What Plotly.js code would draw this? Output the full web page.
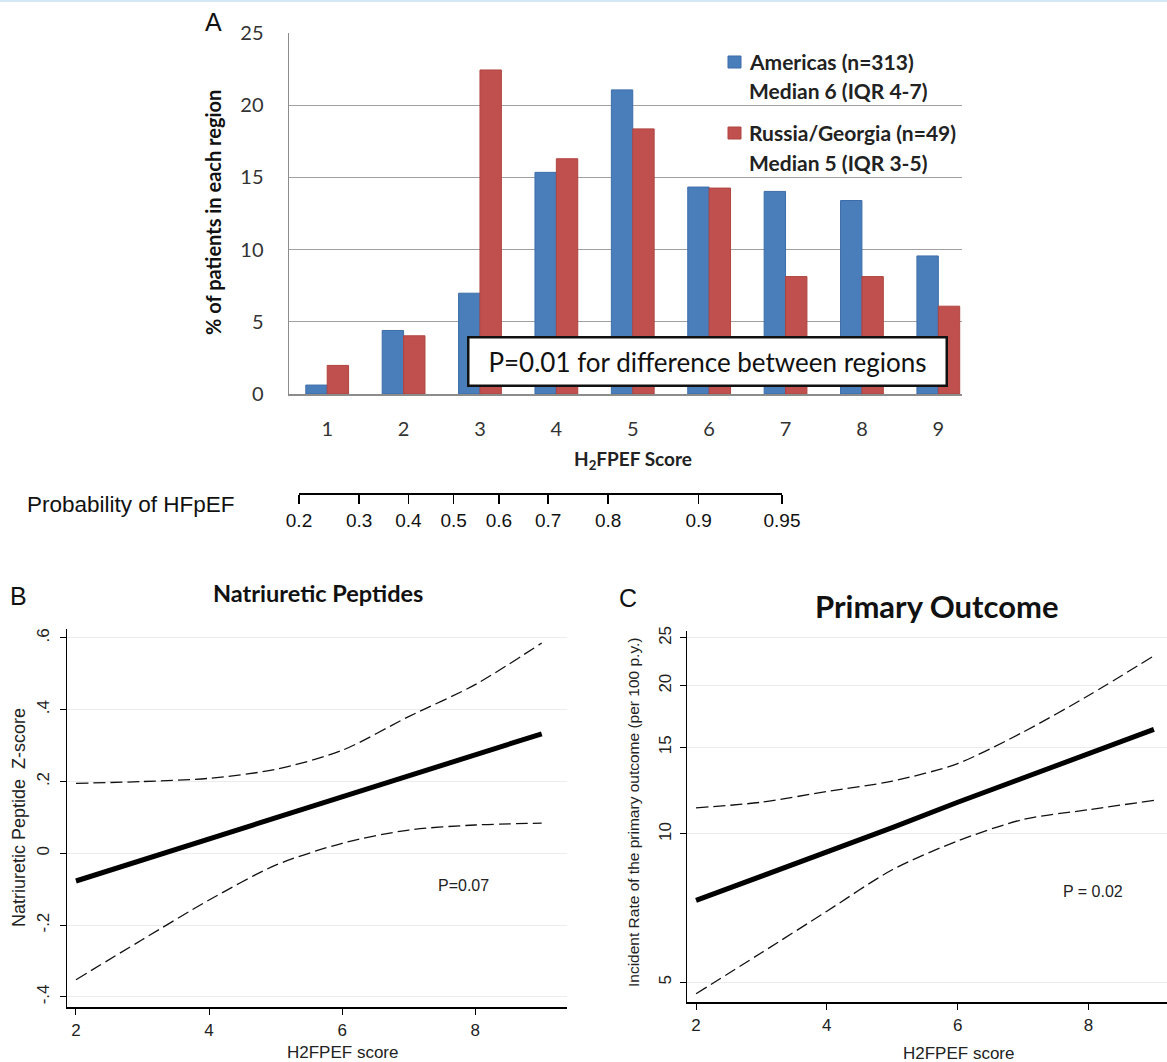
<!DOCTYPE html>
<html><head><meta charset="utf-8">
<script src="https://cdn.plot.ly/plotly-3.0.1.min.js"></script>
<style>html,body{margin:0;padding:0;background:#fff}#chart{width:1167px;height:1062px}</style>
</head><body><div id="chart"></div>
<script>
// ---------- data ----------
const scores = [1, 2, 3, 4, 5, 6, 7, 8, 9];
const americasPct = [0.62, 4.4, 6.98, 15.35, 21.06, 14.33, 14.03, 13.4, 9.56];
const russiaPct = [1.98, 4.03, 22.44, 16.29, 18.36, 14.26, 8.13, 8.13, 6.08];
const americasLabel = ['Americas (n=313)', 'Median 6 (IQR 4-7)'];
const russiaLabel = ['Russia/Georgia (n=49)', 'Median 5 (IQR 3-5)'];

const probTicks = [0.2, 0.3, 0.4, 0.5, 0.6, 0.7, 0.8, 0.9, 0.95];
const probLabels = ['0.2', '0.3', '0.4', '0.5', '0.6', '0.7', '0.8', '0.9', '0.95'];

const curveX = [2, 3, 4, 5, 6, 7, 8, 9];
const npFit = [-0.077, -0.018, 0.041, 0.100, 0.158, 0.217, 0.276, 0.333];
const npUpper = [0.195, 0.200, 0.209, 0.234, 0.287, 0.381, 0.470, 0.586];
const npLower = [-0.352, -0.240, -0.130, -0.033, 0.028, 0.065, 0.079, 0.084];
const npTicks = [-0.4, -0.2, 0, 0.2, 0.4, 0.6];
const npTickText = ['-.4', '-.2', '0', '.2', '.4', '.6'];

const poFit = [7.33, 8.2, 9.2, 10.3, 11.6, 13.0, 14.55, 16.3];
const poUpper = [11.3, 11.6, 12.2, 12.8, 13.9, 16.1, 19.1, 23.0];
const poLower = [4.74, 5.74, 6.97, 8.46, 9.68, 10.7, 11.2, 11.7];
const poTicks = [5, 10, 15, 20, 25];
const scoreTicks = [2, 4, 6, 8];

// ---------- helpers ----------
const W = 1167, H = 1062;
const px = x => x / W;
const py = y => 1 - y / H;
const logit = p => Math.log(p / (1 - p));

const CAL = 'Lato, "Open Sans", sans-serif';
const ARI = '"Liberation Sans", Arial, sans-serif';
const BLUE = '#4A7EBB', RED = '#C0504D';

const traces = [
  {type: 'bar', x: scores, y: americasPct, name: americasLabel.join(' '), xaxis: 'x', yaxis: 'y',
   marker: {color: BLUE, line: {color: '#3C6DA8', width: 1}}, showlegend: false, hoverinfo: 'x+y'},
  {type: 'bar', x: scores, y: russiaPct, name: russiaLabel.join(' '), xaxis: 'x', yaxis: 'y',
   marker: {color: RED, line: {color: '#B04440', width: 1}}, showlegend: false, hoverinfo: 'x+y'},
  // probability scale carrier
  {type: 'scatter', mode: 'markers', x: probTicks.map(logit), y: probTicks.map(() => 0.5),
   xaxis: 'x2', yaxis: 'y2', marker: {opacity: 0}, showlegend: false, hoverinfo: 'skip'},
  // Panel B
  {type: 'scatter', mode: 'lines', x: curveX, y: npUpper, xaxis: 'x3', yaxis: 'y3',
   line: {color: '#111', width: 1.3, dash: '12px,5px', shape: 'spline', smoothing: 0.8}, showlegend: false},
  {type: 'scatter', mode: 'lines', x: curveX, y: npLower, xaxis: 'x3', yaxis: 'y3',
   line: {color: '#111', width: 1.3, dash: '12px,5px', shape: 'spline', smoothing: 0.8}, showlegend: false},
  {type: 'scatter', mode: 'lines', x: curveX, y: npFit, xaxis: 'x3', yaxis: 'y3',
   line: {color: '#000', width: 5}, showlegend: false},
  // Panel C
  {type: 'scatter', mode: 'lines', x: curveX, y: poUpper, xaxis: 'x4', yaxis: 'y4',
   line: {color: '#111', width: 1.3, dash: '12px,5px', shape: 'spline', smoothing: 0.8}, showlegend: false},
  {type: 'scatter', mode: 'lines', x: curveX, y: poLower, xaxis: 'x4', yaxis: 'y4',
   line: {color: '#111', width: 1.3, dash: '12px,5px', shape: 'spline', smoothing: 0.8}, showlegend: false},
  {type: 'scatter', mode: 'lines', x: curveX, y: poFit, xaxis: 'x4', yaxis: 'y4',
   line: {color: '#000', width: 5}, showlegend: false}
];

const stataX = (dom, range) => ({
  domain: dom, range: range, tickvals: scoreTicks, ticks: 'outside', ticklen: 6, tickcolor: '#000',
  showline: true, linecolor: '#000', linewidth: 1.5, showgrid: false, zeroline: false,
  tickfont: {family: ARI, size: 17, color: '#222'}, ticklabelstandoff: 1
});

// paper-anchored text helper (explicit centre anchoring)
const note = (text, x, y, font, extra) => Object.assign({
  text: text, x: px(x), y: py(y), xref: 'paper', yref: 'paper', xanchor: 'center', yanchor: 'middle',
  showarrow: false, font: font
}, extra || {});

const legFont = {family: CAL, size: 21, color: '#222'};

const layout = {
  width: W, height: H, margin: {l: 0, r: 0, t: 0, b: 0},
  paper_bgcolor: '#fff', plot_bgcolor: 'rgba(0,0,0,0)',
  barmode: 'group', bargap: 0.44, bargroupgap: 0, showlegend: false,
  // Panel A
  xaxis: {domain: [px(289), px(962)], range: [0.5, 9.31], tickvals: scores, ticks: '',
    showline: true, linecolor: '#8c8c8c', linewidth: 1.5, showgrid: false, zeroline: false,
    tickfont: {family: CAL, size: 20, color: '#333'}, ticklabelstandoff: 16, anchor: 'y'},
  yaxis: {domain: [py(394), py(33)], range: [0, 25], tickvals: [0, 5, 10, 15, 20, 25], ticks: '',
    showline: true, linecolor: '#8c8c8c', linewidth: 1.5, showgrid: true, gridcolor: '#a0a0a0', gridwidth: 1.3,
    zeroline: false, tickfont: {family: CAL, size: 20, color: '#333'}, ticklabelstandoff: 20, anchor: 'x'},
  // probability axis
  xaxis2: {domain: [px(299), px(782)], range: [logit(0.2), logit(0.95)], tickvals: probTicks.map(logit),
    ticktext: probLabels, ticks: 'outside', ticklen: 9, tickwidth: 1.5, tickcolor: '#000',
    showline: true, linecolor: '#000', linewidth: 2, showgrid: false, zeroline: false,
    tickfont: {family: ARI, size: 19, color: '#111'}, ticklabelstandoff: 0, anchor: 'y2'},
  yaxis2: {domain: [py(493), py(490)], range: [0, 1], visible: false, anchor: 'x2'},
  // Panel B
  xaxis3: Object.assign(stataX([px(67), px(567)], [1.865, 9.38]), {anchor: 'y3'}),
  yaxis3: {domain: [py(1007), py(629)], range: [-0.428, 0.625], tickvals: npTicks, ticktext: npTickText,
    tickangle: -90, ticks: 'outside', ticklen: 6, tickcolor: '#000', showline: true, linecolor: '#000',
    linewidth: 1.5, showgrid: true, gridcolor: '#ececec', zeroline: false,
    tickfont: {family: ARI, size: 17, color: '#222'}, ticklabelstandoff: 4, anchor: 'x3'},
  // Panel C
  xaxis4: Object.assign(stataX([px(687), 1], [1.862, 9.20]), {anchor: 'y4'}),
  yaxis4: {domain: [py(1002), py(631)], type: 'log', range: [0.659, 1.412], tickvals: poTicks,
    ticktext: poTicks.map(String), tickangle: -90, ticks: 'outside', ticklen: 6, tickcolor: '#000',
    showline: true, linecolor: '#000', linewidth: 1.5, showgrid: true, gridcolor: '#ececec', zeroline: false,
    tickfont: {family: ARI, size: 17, color: '#222'}, ticklabelstandoff: 2, anchor: 'x4'},
  shapes: [
    {type: 'line', xref: 'paper', yref: 'paper', x0: 0, x1: 1, y0: py(1), y1: py(1), line: {color: '#d3e8f4', width: 2}},
    {type: 'rect', xref: 'paper', yref: 'paper', x0: px(728), x1: px(741), y0: py(68), y1: py(56),
     fillcolor: BLUE, line: {color: '#3C6DA8', width: 1}},
    {type: 'rect', xref: 'paper', yref: 'paper', x0: px(728), x1: px(741), y0: py(139), y1: py(127),
     fillcolor: RED, line: {color: '#B04440', width: 1}}
  ],
  annotations: [
    note('A', 213, 22, {family: ARI, size: 25, color: '#111'}),
    note('<b>% of patients in each region</b>', 213, 213, {family: CAL, size: 20, color: '#111'}, {textangle: -90}),
    note('<b>H<sub>2</sub>FPEF Score</b>', 633, 460, {family: CAL, size: 19, color: '#222'}),
    note('<b>' + americasLabel[0] + '</b>', 747, 62, legFont, {xanchor: 'left'}),
    note('<b>' + americasLabel[1] + '</b>', 747, 90, legFont, {xanchor: 'left'}),
    note('<b>' + russiaLabel[0] + '</b>', 747, 133, legFont, {xanchor: 'left'}),
    note('<b>' + russiaLabel[1] + '</b>', 747, 162, legFont, {xanchor: 'left'}),
    note('P=0.01 for difference between regions', 707, 361, {family: CAL, size: 26, color: '#111'},
      {width: 474, height: 44, borderpad: 1, borderwidth: 2.5, bordercolor: '#111', bgcolor: '#fff'}),
    note('Probability of HFpEF', 25, 505, {family: ARI, size: 22.5, color: '#111'}, {xanchor: 'left'}),
    // Panel B texts
    note('B', 18, 596, {family: ARI, size: 25, color: '#111'}),
    note('<b>Natriuretic Peptides</b>', 318, 593, {family: CAL, size: 23.5, color: '#111'}),
    note('Natriuretic Peptide  Z-score', 19, 818, {family: ARI, size: 18, color: '#222'}, {textangle: -90}),
    note('H2FPEF score', 342, 1052, {family: ARI, size: 17, color: '#222'}),
    {text: 'P=0.07', x: 7.83, y: -0.09, xref: 'x3', yref: 'y3', xanchor: 'center', yanchor: 'middle',
     showarrow: false, font: {family: ARI, size: 16, color: '#222'}},
    // Panel C texts
    note('C', 628, 598, {family: ARI, size: 25, color: '#111'}),
    note('<b>Primary Outcome</b>', 936, 606, {family: CAL, size: 31, color: '#111'}),
    note('Incident Rate of the primary outcome (per 100 p.y.)', 633, 812, {family: ARI, size: 15.5, color: '#222'},
      {textangle: -90}),
    note('H2FPEF score', 958, 1053, {family: ARI, size: 17, color: '#222'}),
    {text: 'P = 0.02', x: 8.07, y: Math.log10(7.64), xref: 'x4', yref: 'y4', xanchor: 'center', yanchor: 'middle',
     showarrow: false, font: {family: ARI, size: 16, color: '#222'}}
  ]
};

Plotly.newPlot('chart', traces, layout, {displayModeBar: false, staticPlot: true});
</script>
</body></html>
